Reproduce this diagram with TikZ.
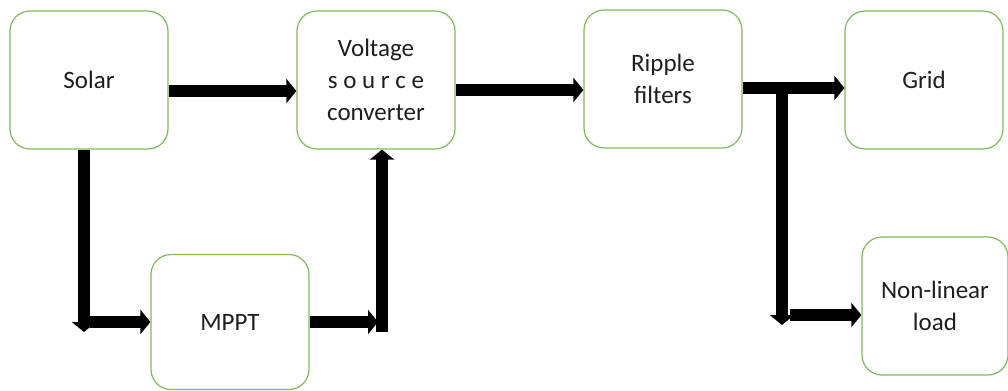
\documentclass[tikz,border=0pt]{standalone}
\usepackage{fontspec}
\setmainfont{Carlito}
\usetikzlibrary{arrows.meta}
\definecolor{boxgreen}{RGB}{128,186,90}
\definecolor{txtgray}{RGB}{30,30,30}
\begin{document}
\begin{tikzpicture}[x=0.5pt,y=-0.5pt,
  block/.style={draw=boxgreen,line width=0.6pt,rounded corners=10pt,
    minimum width=79pt,minimum height=69pt,align=center,text=txtgray,
    font=\fontsize{12.5}{15.8}\selectfont},
  flow/.style={line width=6pt,-{Triangle[width=12pt,length=5pt]}}]
  \useasboundingbox (0,0) rectangle (1008,391);
  % blocks
  \node[block] (solar) at (89,80) {Solar};
  \node[block] (vsc) at (376,80) {Voltage\\s o u r c e\\converter};
  \node[block] (ripple) at (663,79) {Ripple\\filters};
  \node[block] (grid) at (924,80) {Grid};
  \node[block,minimum height=67.5pt] (mppt) at (230,322) {MPPT};
  \node[block,minimum width=73pt] (load) at (935,306) {Non-linear\\load};
  % helper points
  \coordinate (s1) at (84,332);
  \coordinate (s2) at (90,322);
  \coordinate (m1) at (378,322);
  \coordinate (m2) at (382,332);
  \coordinate (r1) at (782,88);
  \coordinate (r2) at (782,325);
  \coordinate (r3) at (790,315);
  % connectors
  \draw[flow] (solar.east |- 0,91) -- (vsc.west |- 0,91);
  \draw[flow] (vsc.east |- 0,90) -- (ripple.west |- 0,90);
  \draw[flow] (ripple.east |- r1) -- (grid.west |- r1);
  \draw[flow] (solar.south -| s1) -- (s1);
  \draw[flow] (s2) -- (mppt.west |- s2);
  \draw[flow] (mppt.east |- m1) -- (m1);
  \draw[flow] (m2) -- (vsc.south -| m2);
  \draw[flow] (r1) -- (r2);
  \draw[flow] (r3) -- (load.west |- r3);
\end{tikzpicture}
\end{document}
